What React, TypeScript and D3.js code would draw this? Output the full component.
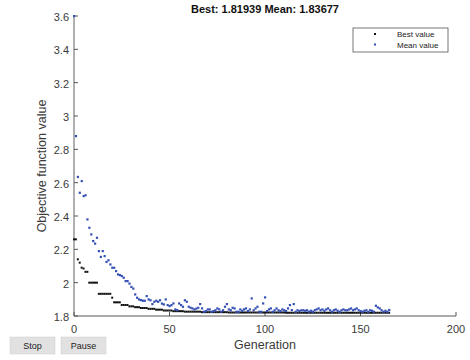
import React from "react";
import * as d3 from "d3";

const title = "Best: 1.81939 Mean: 1.83677";
const xTicks = [0, 50, 100, 150, 200];
const yTicks = [1.8, 2.0, 2.2, 2.4, 2.6, 2.8, 3.0, 3.2, 3.4, 3.6];
const legendLabels = ["Best value", "Mean value"];
const buttonLabels = ["Stop", "Pause"];

const bestValues = [
  2.26, 2.26, 2.14, 2.12, 2.09, 2.085, 2.065, 2.065,
  2.0, 2.0, 2.0, 2.0, 2.0,
  1.933, 1.933, 1.933, 1.933, 1.933, 1.933, 1.933,
  1.91,
  1.882, 1.882, 1.882, 1.882,
  1.866, 1.866, 1.866, 1.866,
  1.858, 1.858, 1.858,
  1.853, 1.853, 1.853,
  1.848, 1.848, 1.848, 1.848,
  1.843, 1.843, 1.843, 1.843,
  1.838, 1.838, 1.838, 1.838,
  1.833, 1.833, 1.833, 1.833, 1.833,
  1.829, 1.829, 1.829, 1.829, 1.829, 1.829,
  1.826, 1.826, 1.826, 1.826, 1.826, 1.826, 1.826, 1.826, 1.826,
  1.823, 1.823, 1.823, 1.823, 1.823, 1.823, 1.823, 1.823, 1.823, 1.823, 1.823, 1.823, 1.823, 1.823,
  1.821, 1.821, 1.821, 1.821, 1.821, 1.821, 1.821, 1.821, 1.821, 1.821,
  1.821, 1.821, 1.821, 1.821, 1.821, 1.821, 1.821, 1.821, 1.821, 1.821,
  1.821, 1.821, 1.821, 1.821, 1.821, 1.821, 1.821, 1.821, 1.821, 1.821,
  1.81939, 1.81939, 1.81939, 1.81939, 1.81939, 1.81939, 1.81939, 1.81939, 1.81939, 1.81939,
  1.81939, 1.81939, 1.81939, 1.81939, 1.81939, 1.81939, 1.81939, 1.81939, 1.81939, 1.81939,
  1.81939, 1.81939, 1.81939, 1.81939, 1.81939, 1.81939, 1.81939, 1.81939, 1.81939, 1.81939,
  1.81939, 1.81939, 1.81939, 1.81939, 1.81939, 1.81939, 1.81939, 1.81939, 1.81939, 1.81939,
  1.81939, 1.81939, 1.81939, 1.81939, 1.81939, 1.81939, 1.81939, 1.81939, 1.81939, 1.81939,
  1.81939, 1.81939, 1.81939, 1.81939, 1.81939,
];

const meanValues = [
  3.6, 2.88, 2.635, 2.54, 2.61, 2.52, 2.525, 2.38, 2.33, 2.29,
  2.25, 2.235, 2.27, 2.19, 2.155, 2.19, 2.16, 2.125, 2.135, 2.11,
  2.09, 2.09, 2.07, 2.05, 2.046, 2.04, 2.03, 2.01, 2.01, 1.995,
  1.975, 1.965, 1.93, 1.91, 1.9, 1.896, 1.892, 1.892, 1.92, 1.9,
  1.895, 1.872, 1.886, 1.892, 1.886, 1.895, 1.875, 1.87, 1.9, 1.866,
  1.86, 1.866, 1.876, 1.84, 1.836, 1.876, 1.866, 1.856, 1.895, 1.886,
  1.856, 1.85, 1.846, 1.84, 1.845, 1.85, 1.872, 1.846, 1.826, 1.83,
  1.84, 1.84, 1.826, 1.83, 1.835, 1.846, 1.84, 1.826, 1.835, 1.856,
  1.872, 1.84, 1.835, 1.85, 1.846, 1.826, 1.826, 1.84, 1.832, 1.84,
  1.846, 1.83, 1.84, 1.906, 1.835, 1.846, 1.856, 1.826, 1.826, 1.876,
  1.912, 1.83, 1.84, 1.846, 1.826, 1.835, 1.846, 1.835, 1.83, 1.84,
  1.835, 1.83, 1.846, 1.866, 1.836, 1.872, 1.826, 1.835, 1.83, 1.835,
  1.835, 1.832, 1.835, 1.826, 1.832, 1.826, 1.835, 1.84, 1.846, 1.835,
  1.84, 1.832, 1.84, 1.846, 1.835, 1.826, 1.835, 1.84, 1.832, 1.826,
  1.835, 1.84, 1.835, 1.835, 1.84, 1.846, 1.835, 1.84, 1.846, 1.835,
  1.83, 1.826, 1.832, 1.835, 1.826, 1.835, 1.832, 1.826, 1.862, 1.852,
  1.846, 1.835, 1.826, 1.832, 1.826, 1.83677,
];

const FONT = "'Liberation Sans', Arial, Helvetica, sans-serif";

export default function App() {
  const W = 470;
  const H = 360;
  const x = d3.scaleLinear().domain([0, 200]).range([74, 456]);
  const y = d3.scaleLinear().domain([1.8, 3.6]).range([316, 16]);
  const axisColor = "#8f8f8f";
  const labelColor = "#3a3a3a";
  const blue = "#3550b4";
  const fmt = (v: number) => String(+v.toFixed(1));

  return (
    <svg
      width={W}
      height={H}
      style={{ position: "absolute", left: 0, top: 0, background: "#fff" }}
      fontFamily={FONT}
    >
      <rect x={0} y={0} width={W} height={H} fill="#fff" />
      {/* title */}
      <text x={265} y={13} textAnchor="middle" fontSize={11} fontWeight="bold" fill="#111">
        {title}
      </text>

      {/* axes */}
      <line x1={x(0)} x2={x(0)} y1={y(3.6)} y2={y(1.8)} stroke={axisColor} strokeWidth={1.4} />
      <line x1={x(0)} x2={x(200)} y1={y(1.8)} y2={y(1.8)} stroke={axisColor} strokeWidth={1.4} />
      {yTicks.map((t) => (
        <g key={"y" + t}>
          <line x1={x(0)} x2={x(0) + 4} y1={y(t)} y2={y(t)} stroke="#555" strokeWidth={1} />
          <text x={69} y={y(t) + 5} textAnchor="end" fontSize={11} fill={labelColor}>
            {fmt(t)}
          </text>
        </g>
      ))}
      {xTicks.map((t) => (
        <g key={"x" + t}>
          <line x1={x(t)} x2={x(t)} y1={y(1.8)} y2={y(1.8) - 4} stroke="#555" strokeWidth={1} />
          <text x={x(t)} y={333} textAnchor="middle" fontSize={11} fill={labelColor}>
            {t}
          </text>
        </g>
      ))}
      <text x={265} y={349} textAnchor="middle" fontSize={12.5} fill={labelColor}>
        Generation
      </text>
      <text
        transform={`translate(46,166) rotate(-90)`}
        textAnchor="middle"
        fontSize={12.5}
        fill={labelColor}
      >
        Objective function value
      </text>

      {/* data */}
      {bestValues.map((v, i) => (
        <rect key={"b" + i} x={x(i) - 1} y={y(v) - 1} width={2} height={2} fill="#111" />
      ))}
      {meanValues.map((v, i) => (
        <rect key={"m" + i} x={x(i) - 1} y={y(v) - 1} width={2.2} height={2.2} fill={blue} />
      ))}

      {/* legend */}
      <rect x={353} y={28} width={95} height={24} fill="#fff" stroke="#555" strokeWidth={0.8} />
      <rect x={374} y={33} width={2} height={2} fill="#111" />
      <rect x={374} y={43.5} width={2} height={2} fill={blue} />
      <text x={397} y={37} fontSize={8} fill="#222">{legendLabels[0]}</text>
      <text x={397} y={47.5} fontSize={8} fill="#222">{legendLabels[1]}</text>

      {/* buttons */}
      {buttonLabels.map((b, i) => (
        <g key={b}>
          <rect x={10 + i * 51} y={337} width={45} height={17} fill="#e1e1e1" stroke="#d0d0d0" strokeWidth={0.5} />
          <text x={32.5 + i * 51} y={349} textAnchor="middle" fontSize={9} fill="#222">
            {b}
          </text>
        </g>
      ))}
    </svg>
  );
}
